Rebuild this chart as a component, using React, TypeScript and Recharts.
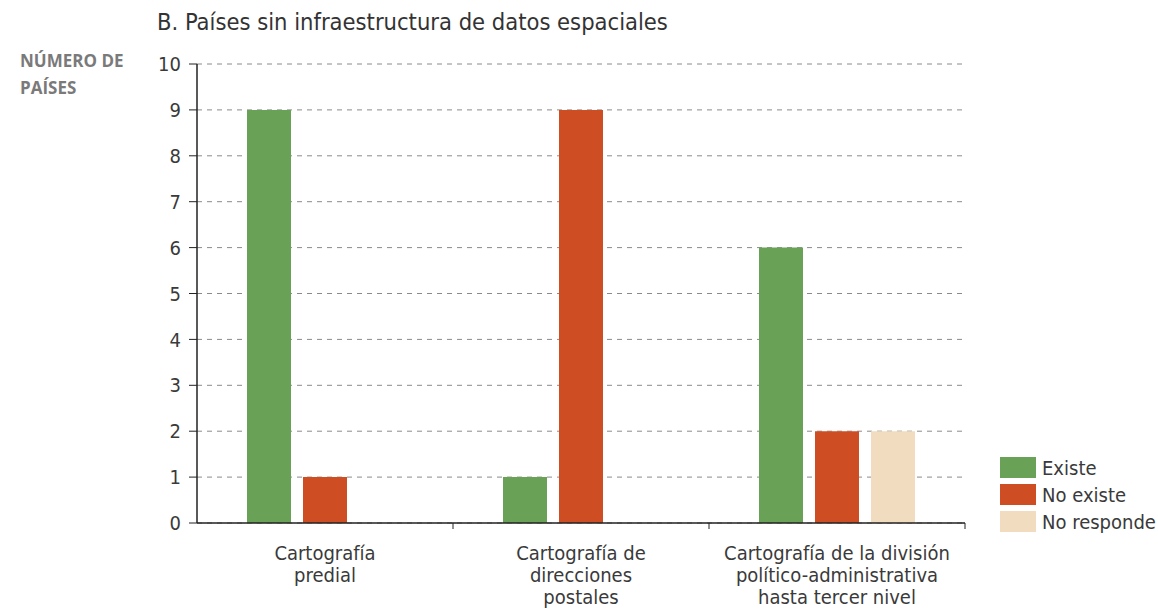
import { BarChart, Bar, XAxis, YAxis, CartesianGrid } from 'recharts'

const categories = [
  'Cartografía\npredial',
  'Cartografía de\ndirecciones\npostales',
  'Cartografía de la división\npolítico-administrativa\nhasta tercer nivel',
]
const existe = [9, 1, 6]
const noExiste = [1, 9, 2]
const noResponde: (number | null)[] = [null, null, 2]
const yTicks = [0, 1, 2, 3, 4, 5, 6, 7, 8, 9, 10]

const series = [
  { key: 'existe', name: 'Existe', color: '#69a257' },
  { key: 'noExiste', name: 'No existe', color: '#cf4d23' },
  { key: 'noResponde', name: 'No responde', color: '#f1dcbf' },
]

const data = categories.map((c, i) => ({
  category: c,
  existe: existe[i],
  noExiste: noExiste[i],
  noResponde: noResponde[i],
}))

const font = '"Liberation Sans Narrow", "DejaVu Sans Condensed", "Roboto", sans-serif'

// label lines plus a small tick at the right edge of each category band
function CategoryTick(props: any) {
  const { x, y, payload } = props
  const lines = String(payload.value).split('\n')
  const half = Number(payload.offset) || 0
  return (
    <g>
      {half > 0 && <line x1={x + half} x2={x + half} y1={y} y2={y + 6} stroke="#222" />}
      <text x={x} y={y + 37} textAnchor="middle" fill="#3a3a3a" fontSize={20} fontFamily={font}>
        {lines.map((l, i) => (
          <tspan key={i} x={x} dy={i === 0 ? 0 : 22}>
            {l}
          </tspan>
        ))}
      </text>
    </g>
  )
}

export default function App() {
  return (
    <div style={{ position: 'absolute', left: 0, top: 0, width: 1158, height: 613, background: '#fff' }}>
      <div
        style={{
          position: 'absolute',
          left: 157,
          top: 8,
          fontFamily: font,
          fontSize: 23.5,
          color: '#333',
          whiteSpace: 'nowrap',
        }}
      >
        B. Países sin infraestructura de datos espaciales
      </div>
      <div
        style={{
          position: 'absolute',
          left: 20,
          top: 47,
          fontFamily: '"Open Sans", sans-serif',
          fontWeight: 700,
          fontSize: 17,
          lineHeight: '27px',
          color: '#7a7a7a',
        }}
      >
        NÚMERO DE
        <br />
        PAÍSES
      </div>
      <div
        style={{
          position: 'absolute',
          left: 1000,
          top: 454,
          fontFamily: font,
          fontSize: 20,
          color: '#3a3a3a',
        }}
      >
        {series.map((s) => (
          <div key={s.key} style={{ display: 'flex', alignItems: 'center', height: 27 }}>
            <div style={{ width: 36, height: 21, background: s.color, marginRight: 6 }} />
            <span>{s.name}</span>
          </div>
        ))}
      </div>
      <BarChart
        width={1158}
        height={613}
        data={data}
        margin={{ top: 64, right: 193, bottom: 0, left: 0 }}
        barSize={44}
        barGap={12}
        style={{ position: 'absolute', left: 0, top: 0 }}
      >
        <CartesianGrid horizontal vertical={false} stroke="#8a8a8a" strokeDasharray="5 5" />
        <XAxis
          dataKey="category"
          height={90}
          interval={0}
          tick={<CategoryTick />}
          tickLine={false}
          tickSize={0}
          tickMargin={0}
          axisLine={{ stroke: '#222', strokeWidth: 1.5 }}
        />
        <YAxis
          width={197}
          domain={[0, 10]}
          ticks={yTicks}
          interval={0}
          tickSize={8}
          tickMargin={8}
          tick={{ fill: '#3a3a3a', fontSize: 20, fontFamily: font }}
          tickLine={{ stroke: '#222' }}
          axisLine={{ stroke: '#222', strokeWidth: 1.5 }}
        />
        {series.map((s) => (
          <Bar key={s.key} dataKey={s.key} name={s.name} fill={s.color} isAnimationActive={false} />
        ))}
      </BarChart>
    </div>
  )
}
